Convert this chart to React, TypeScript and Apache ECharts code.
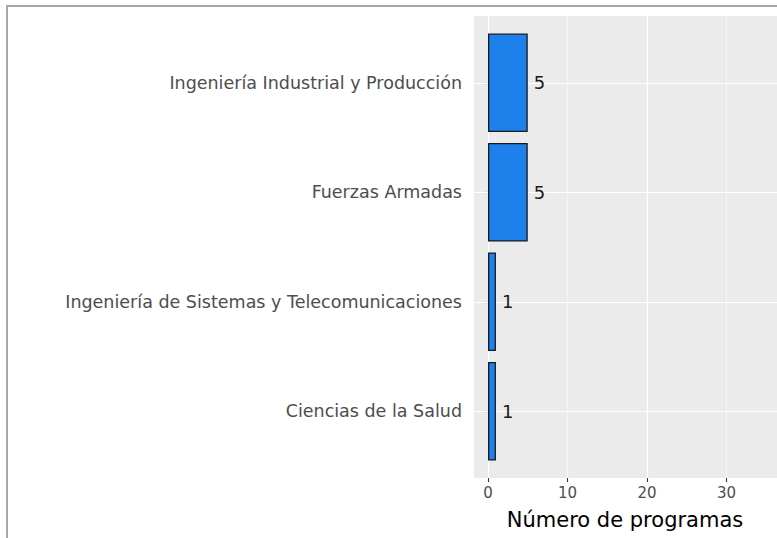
import React, { useEffect, useRef } from "react";
import * as echarts from "echarts";

const categories = [
  "Ingeniería Industrial y Producción",
  "Fuerzas Armadas",
  "Ingeniería de Sistemas y Telecomunicaciones",
  "Ciencias de la Salud",
];
const programCounts = [5, 5, 1, 1];
const xTickValues = [0, 10, 20, 30];
const xTitle = "Número de programas";

const FONT = "DejaVu Sans";

export default function App() {
  const ref = useRef<HTMLDivElement>(null);
  useEffect(() => {
    if (!ref.current) return;
    const chart = echarts.init(ref.current, null, { renderer: "svg" });
    const option: any = {
      animation: false,
      backgroundColor: "#ffffff",
      textStyle: { fontFamily: FONT },
      grid: [
        // panel background
        { left: 474, top: 16, width: 303, height: 462, show: true, backgroundColor: "#EBEBEB", borderWidth: 0 },
        // vertical grid lines + x axis
        { left: 488, top: 16, width: 289, height: 462, show: false },
        // bars
        { left: 474, top: 28, width: 303, height: 438, show: false },
      ],
      xAxis: [
        { gridIndex: 0, type: "value", min: 0, max: 1, show: false },
        {
          gridIndex: 1,
          type: "value",
          min: 0,
          max: 36.35,
          interval: 5,
          axisLine: { show: false },
          axisTick: { show: true, length: 4, customValues: xTickValues, lineStyle: { color: "#333333", width: 1.1 } },
          axisLabel: { show: true, customValues: xTickValues, color: "#4D4D4D", fontSize: 15, margin: 7, fontFamily: FONT },
          splitLine: { show: true, lineStyle: { color: ["#FFFFFF", "#F6F6F6"], width: 1.1 } },
        },
        { gridIndex: 2, type: "value", min: -1.76, max: 36.35, show: false },
      ],
      yAxis: [
        { gridIndex: 0, type: "value", show: false },
        { gridIndex: 1, type: "value", show: false },
        {
          gridIndex: 2,
          type: "category",
          data: categories,
          inverse: true,
          axisLine: { show: false },
          axisTick: { show: true, length: 5, alignWithLabel: true, lineStyle: { color: "#333333", width: 1.1 } },
          axisLabel: { color: "#4D4D4D", fontSize: 17.5, margin: 12, fontFamily: FONT },
          splitLine: { show: false },
        },
      ],
      series: [
        {
          type: "bar",
          xAxisIndex: 2,
          yAxisIndex: 2,
          data: programCounts,
          barWidth: "90%",
          itemStyle: { color: "#1E80EA", borderColor: "#1A1A1A", borderWidth: 1.3 },
          label: {
            show: true,
            position: "right",
            distance: 6,
            color: "#1A1A1A",
            fontSize: 18,
            fontFamily: FONT,
          },
          emphasis: { disabled: true },
          markLine: {
            silent: true,
            z: 1,
            symbol: ["none", "none"],
            label: { show: false },
            lineStyle: { color: "#FFFFFF", width: 1.1, type: "solid" },
            emphasis: { disabled: true },
            data: categories.map((c) => ({ yAxis: c })),
          },
        },
      ],
      graphic: [
        {
          type: "polyline",
          shape: { points: [[7, 538], [7, 6], [777, 6]] },
          style: { stroke: "#A8A8A8", lineWidth: 2, fill: "none" },
          silent: true,
        },
        {
          type: "text",
          x: 625,
          y: 520,
          style: {
            text: xTitle,
            fontSize: 21,
            fontFamily: FONT,
            fill: "#000000",
            textAlign: "center",
            textVerticalAlign: "middle",
          },
          silent: true,
        },
      ],
    };
    chart.setOption(option);
    return () => chart.dispose();
  }, []);
  return (
    <div
      ref={ref}
      style={{ position: "absolute", left: 0, top: 0, width: 777, height: 538 }}
    />
  );
}
